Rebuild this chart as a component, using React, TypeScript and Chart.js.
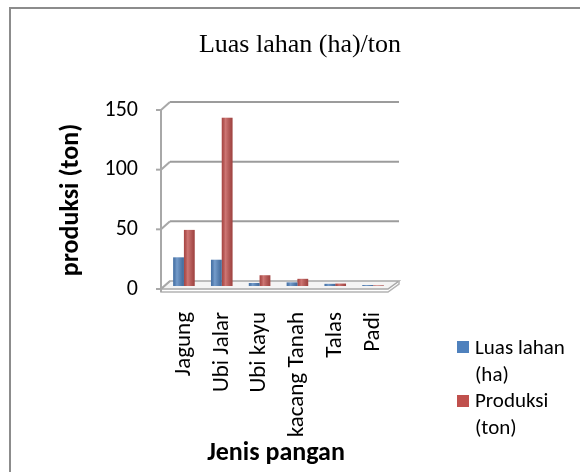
import React, { useEffect, useRef } from "react";
import { Chart, registerables } from "chart.js";

Chart.register(...registerables);

const categories = ["Jagung", "Ubi Jalar", "Ubi kayu", "kacang Tanah", "Talas", "Padi"];
const luasLahan = [24, 22, 2.5, 3, 1.8, 0.8];
const produksi = [47, 141, 9, 6, 2, 0.5];
const yTicks = [0, 50, 100, 150];
const seriesNames = ["Luas lahan (ha)", "Produksi (ton)"];
const legendLines = [
  ["Luas lahan", "(ha)"],
  ["Produksi", "(ton)"],
];
const seriesColors = ["#4f81bd", "#c0504d"];
const chartTitle = "Luas lahan (ha)/ton";
const xTitle = "Jenis pangan";
const yTitle = "produksi (ton)";

const FONT = "Carlito, Lato, 'Open Sans', sans-serif";

const FRONT = { dx: -4, dy: 3 };
const BACK = { dx: 5, dy: -5 };

const frame3d = {
  id: "frame3d",
  beforeDatasetsDraw(chart: any) {
    const { ctx, chartArea: a, scales } = chart;
    const y = scales.y;
    const backRight = a.right + 7;
    ctx.save();
    const fl = a.left + FRONT.dx;
    const fr = a.right + FRONT.dx;
    const fb = a.bottom + FRONT.dy;
    const bl = a.left + BACK.dx;
    const bb = a.bottom + BACK.dy;
    // floor slab
    ctx.beginPath();
    ctx.moveTo(fl, fb);
    ctx.lineTo(fr, fb);
    ctx.lineTo(backRight, bb);
    ctx.lineTo(bl, bb);
    ctx.closePath();
    ctx.fillStyle = "#f4f4f4";
    ctx.fill();
    ctx.strokeStyle = "#a8a8a8";
    ctx.lineWidth = 1.5;
    ctx.stroke();
    ctx.beginPath();
    ctx.moveTo(fl, fb);
    ctx.lineTo(fl, fb + 3);
    ctx.lineTo(fr, fb + 3);
    ctx.lineTo(backRight, bb + 3);
    ctx.lineTo(backRight, bb);
    ctx.strokeStyle = "#b4b4b4";
    ctx.stroke();

    ctx.lineWidth = 2;
    for (const v of yTicks) {
      const py = y.getPixelForValue(v);
      if (v !== yTicks[0]) {
        ctx.strokeStyle = "#9c9c9c";
        ctx.beginPath();
        ctx.moveTo(bl, py + BACK.dy);
        ctx.lineTo(backRight, py + BACK.dy);
        ctx.stroke();
      }
      ctx.strokeStyle = "#a8a8a8";
      ctx.beginPath();
      ctx.moveTo(fl, py + FRONT.dy);
      ctx.lineTo(bl, py + BACK.dy);
      ctx.stroke();
      ctx.beginPath();
      ctx.moveTo(fl - 5, py + FRONT.dy);
      ctx.lineTo(fl, py + FRONT.dy);
      ctx.stroke();
    }
    ctx.strokeStyle = "#a8a8a8";
    ctx.beginPath();
    ctx.moveTo(fl, y.getPixelForValue(yTicks[yTicks.length - 1]) + FRONT.dy);
    ctx.lineTo(fl, fb + 3);
    ctx.stroke();
    ctx.restore();
  },
};

const barShade = {
  id: "barShade",
  afterDatasetsDraw(chart: any) {
    const { ctx } = chart;
    ctx.save();
    chart.data.datasets.forEach((_: any, i: number) => {
      const meta = chart.getDatasetMeta(i);
      meta.data.forEach((bar: any) => {
        const w = bar.width;
        const x0 = bar.x - w / 2;
        const top = Math.min(bar.y, bar.base);
        const h = Math.abs(bar.base - bar.y);
        if (h <= 0) return;
        const g = ctx.createLinearGradient(x0, 0, x0 + w, 0);
        g.addColorStop(0, "rgba(0,0,0,0.12)");
        g.addColorStop(0.35, "rgba(255,255,255,0.22)");
        g.addColorStop(1, "rgba(0,0,0,0.18)");
        ctx.fillStyle = g;
        ctx.fillRect(x0, top, w, h);
      });
    });
    ctx.restore();
  },
};

export default function App() {
  const ref = useRef<HTMLCanvasElement>(null);

  useEffect(() => {
    const chart = new Chart(ref.current as HTMLCanvasElement, {
      type: "bar",
      data: {
        labels: categories,
        datasets: [
          {
            label: seriesNames[0],
            data: luasLahan,
            backgroundColor: seriesColors[0],
            categoryPercentage: 0.57,
            barPercentage: 1,
          },
          {
            label: seriesNames[1],
            data: produksi,
            backgroundColor: seriesColors[1],
            categoryPercentage: 0.57,
            barPercentage: 1,
          },
        ],
      },
      options: {
        responsive: false,
        animation: false,
        devicePixelRatio: 1,
        layout: { padding: { left: 0, top: 107, right: 188, bottom: 0 } },
        plugins: {
          legend: { display: false },
          title: { display: false },
          tooltip: { enabled: false },
        },
        scales: {
          x: {
            grid: { display: false, drawTicks: false },
            border: { display: false },
            ticks: {
              minRotation: 90,
              maxRotation: 90,
              autoSkip: false,
              padding: 26,
              color: "#000",
              font: { family: FONT, size: 23 },
            },
            afterFit: (s: any) => {
              s.height = 472 - 286;
            },
          },
          y: {
            min: 0,
            max: 150,
            grid: { display: false, drawTicks: false },
            border: { display: false },
            ticks: {
              padding: 27,
              labelOffset: 3,
              color: "#000",
              font: { family: FONT, size: 22 },
            },
            afterBuildTicks: (s: any) => {
              s.ticks = yTicks.map((v) => ({ value: v }));
            },
            afterFit: (s: any) => {
              s.width = 165;
            },
          },
        },
      } as any,
      plugins: [frame3d, barShade],
    });
    return () => chart.destroy();
  }, []);

  const center: React.CSSProperties = {
    position: "absolute",
    whiteSpace: "nowrap",
    color: "#000",
    transform: "translate(-50%, -50%)",
  };

  return (
    <div
      style={{
        position: "absolute",
        left: 0,
        top: 0,
        width: 580,
        height: 472,
        overflow: "hidden",
        background: "#fff",
      }}
    >
      <canvas ref={ref} width={580} height={472} style={{ position: "absolute", left: 0, top: 0, display: "block" }} />
      <div
        style={{
          position: "absolute",
          left: 9,
          top: 7,
          width: 640,
          height: 540,
          border: "2px solid #8c8c8c",
          pointerEvents: "none",
        }}
      />
      <div style={{ ...center, left: 300, top: 44, font: "26px 'Liberation Serif', 'Times New Roman', serif" }}>
        {chartTitle}
      </div>
      <div
        style={{
          ...center,
          left: 69,
          top: 200,
          transform: "translate(-50%, -50%) rotate(-90deg)",
          font: `bold 26px ${FONT}`,
        }}
      >
        {yTitle}
      </div>
      <div style={{ ...center, left: 276, top: 451, font: `bold 26px ${FONT}` }}>{xTitle}</div>
      {legendLines.map((lines, i) => (
        <React.Fragment key={i}>
          <div
            style={{
              position: "absolute",
              left: 457,
              top: 341 + i * 54,
              width: 12,
              height: 12,
              background: seriesColors[i],
            }}
          />
          {lines.map((t, j) => (
            <div
              key={j}
              style={{
                position: "absolute",
                left: 475,
                top: 347 + i * 53 + j * 27,
                transform: "translateY(-50%)",
                whiteSpace: "nowrap",
                font: `21px ${FONT}`,
                color: "#000",
              }}
            >
              {t}
            </div>
          ))}
        </React.Fragment>
      ))}
    </div>
  );
}
